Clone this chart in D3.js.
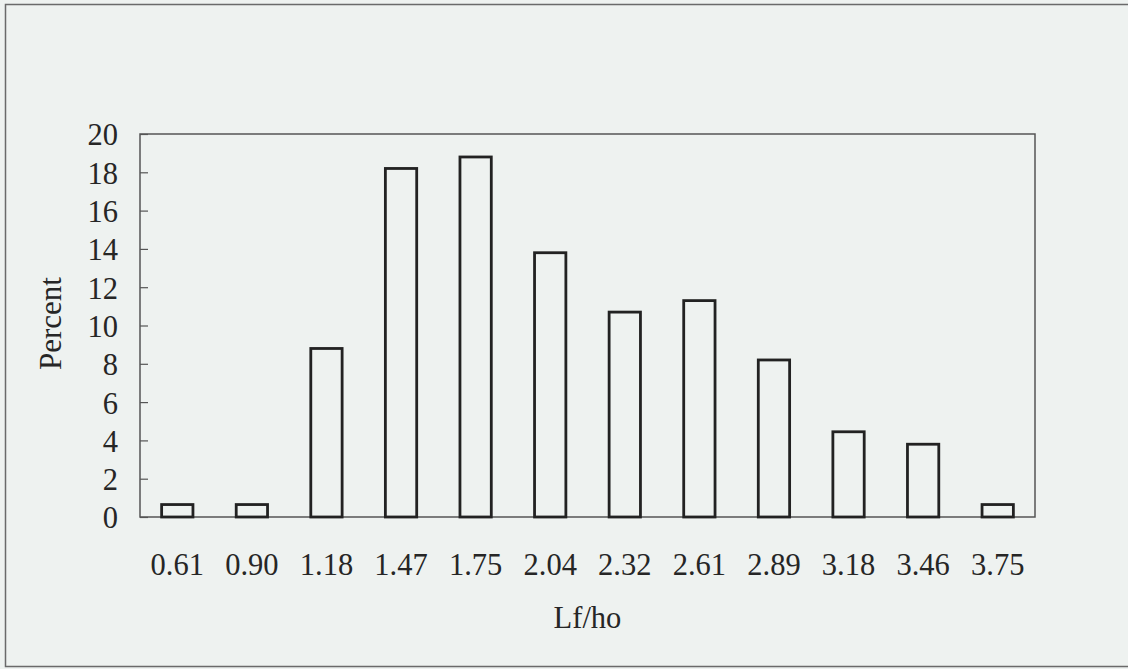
<!DOCTYPE html>
<html>
<head>
<meta charset="utf-8">
<script src="https://cdn.jsdelivr.net/npm/d3@7"></script>
<style>
  body { margin: 0; background: #eef2f0; }
  svg { display: block; }
  text { font-family: "Liberation Serif", "Times New Roman", serif; fill: #262626; }
</style>
</head>
<body>
<svg id="chart"></svg>
<script>
const categories = ["0.61", "0.90", "1.18", "1.47", "1.75", "2.04", "2.32", "2.61", "2.89", "3.18", "3.46", "3.75"];
const percent = [0.65, 0.65, 8.8, 18.2, 18.8, 13.8, 10.7, 11.3, 8.2, 4.45, 3.8, 0.65];
const yTicks = [0, 2, 4, 6, 8, 10, 12, 14, 16, 18, 20];

const width = 1128;
const height = 669;
const margin = { left: 140, top: 134, right: 93, bottom: 152 };

const svg = d3.select("#chart").attr("width", width).attr("height", height);

// outer frame of the page
svg.append("rect")
  .attr("x", 5.5).attr("y", 4.5)
  .attr("width", width + 10).attr("height", 662)
  .attr("fill", "none").attr("stroke", "#6a6a6a").attr("stroke-width", 1.5);

const xScale = d3.scaleBand()
  .domain(categories)
  .range([margin.left, width - margin.right])
  .paddingInner(0.58)
  .paddingOuter(0.29);

const yScale = d3.scaleLinear()
  .domain([0, 20])
  .range([height - margin.bottom, margin.top]);

// plot frame
svg.append("rect")
  .attr("x", margin.left).attr("y", margin.top)
  .attr("width", width - margin.left - margin.right)
  .attr("height", height - margin.top - margin.bottom)
  .attr("fill", "none").attr("stroke", "#555").attr("stroke-width", 1.5);

// y axis, ticks pointing inward
const yAxis = d3.axisRight(yScale).tickValues(yTicks).tickSize(8);
const gy = svg.append("g")
  .attr("transform", "translate(" + margin.left + ",0)")
  .call(yAxis);
gy.select(".domain").remove();
gy.selectAll(".tick line").attr("stroke", "#555").attr("stroke-width", 1.2);
gy.selectAll(".tick text")
  .attr("text-anchor", "end")
  .attr("x", -22)
  .attr("dy", "0.36em")
  .style("font-size", "30.5px");

// x axis labels only
const gx = svg.append("g")
  .attr("transform", "translate(0," + (height - margin.bottom) + ")")
  .call(d3.axisBottom(xScale).tickSize(0).tickPadding(36));
gx.select(".domain").remove();
gx.selectAll(".tick text").attr("dy", "0.71em").style("font-size", "30.5px");

// bars
svg.selectAll(".bar")
  .data(percent)
  .enter()
  .append("rect")
  .attr("class", "bar")
  .attr("x", (d, i) => xScale(categories[i]))
  .attr("y", (d) => yScale(d))
  .attr("width", xScale.bandwidth())
  .attr("height", (d) => yScale(0) - yScale(d))
  .attr("fill", "none")
  .attr("stroke", "#222")
  .attr("stroke-width", 2.8);

// axis titles
svg.append("text")
  .attr("transform", "translate(61," + (yScale(10) - 2) + ") rotate(-90)")
  .attr("text-anchor", "middle")
  .style("font-size", "31px")
  .text("Percent");

svg.append("text")
  .attr("x", (margin.left + width - margin.right) / 2)
  .attr("y", 628)
  .attr("text-anchor", "middle")
  .style("font-size", "30.5px")
  .text("Lf/ho");
</script>
</body>
</html>
